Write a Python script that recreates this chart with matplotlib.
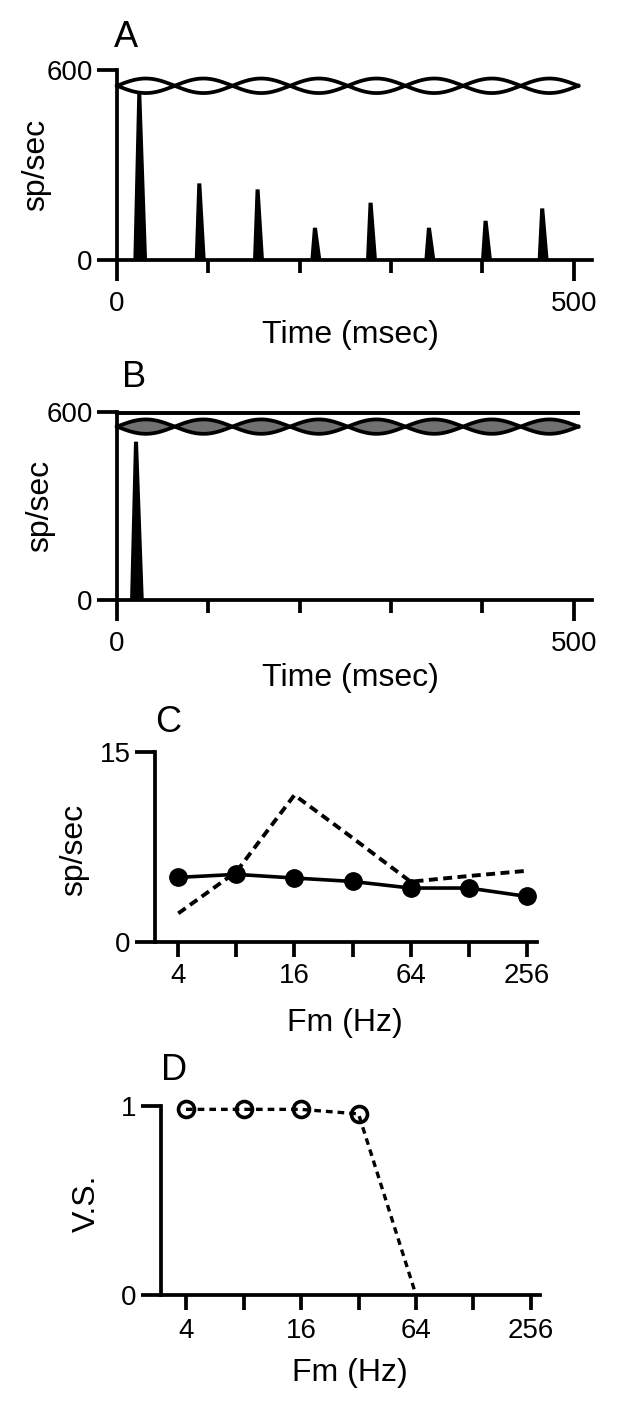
import numpy as np
import matplotlib
matplotlib.use('Agg')
import matplotlib.pyplot as plt
from matplotlib.ticker import FixedLocator, NullFormatter

plt.rcParams['font.family'] = ['Liberation Sans', 'DejaVu Sans']

# panel A: PSTH peaks (time in ms, rate in sp/sec)
peak_t_a = [24.4, 90.1, 153.9, 216.7, 277.6, 341.5, 403.5, 465.5]
peak_h_a = [526, 242, 223, 102, 181, 102, 124, 163]

# panel B: single onset peak
peak_t_b = [20.8]
peak_h_b = [505]

# stimulus envelope drawn above the PSTH (16 Hz AM, 8 cycles)
stim_dur = 505
stim_cycles = 8
env_mid_a = 550
env_mid_b = 553
env_depth = 23
flat_level_b = 595

# panel C: rate vs modulation frequency
fm_c = [4, 8, 16, 32, 64, 128, 256]
rate_solid = [5.08, 5.32, 5.03, 4.76, 4.24, 4.24, 3.58]
rate_dashed = [2.24, 5.53, 11.58, 8.2, 4.74, 5.19, 5.6]

# panel D: vector strength
fm_d = [4, 8, 16, 32, 64]
vs_d = [0.982, 0.982, 0.982, 0.958, 0.0]

LW = 2.7
FS_TICK = 20
FS_LABEL = 23
FS_PANEL = 26

fig = plt.figure(figsize=(6.21, 14.13), dpi=100)


def style(ax):
    for s in ['top', 'right']:
        ax.spines[s].set_visible(False)
    for s in ['left', 'bottom']:
        ax.spines[s].set_linewidth(LW)
    ax.tick_params(axis='both', which='both', direction='out', width=LW,
                   labelsize=FS_TICK, color='k')
    ax.tick_params(axis='y', length=14.5, pad=3)


def psth(ax, pt, ph, mid, fill, flat=None):
    t = np.linspace(0, stim_dur, 3000)
    env = env_depth * np.abs(np.sin(np.pi * stim_cycles * t / stim_dur))
    if fill:
        ax.fill_between(t, mid - env, mid + env, color='#707070', lw=0)
    ax.plot(t, mid + env, color='k', lw=2.7, clip_on=False)
    ax.plot(t, mid - env, color='k', lw=2.7, clip_on=False)
    if flat is not None:
        ax.plot([0, stim_dur], [flat, flat], color='k', lw=2.8, clip_on=False)
    for i, (tp, h) in enumerate(zip(pt, ph)):
        wl, wr = (6.5, 8.5) if i == 0 else (5.0, 7.0)
        ax.fill([tp - wl, tp - 2.2, tp + 2.2, tp + wr], [0, h, h, 0],
                color='k', lw=0)
    ax.set_xlim(0, 520)
    ax.set_ylim(0, 600)
    ax.set_yticks([0, 600])
    ax.set_xticks([0, 500])
    ax.xaxis.set_minor_locator(FixedLocator([100, 200, 300, 400]))
    ax.xaxis.set_minor_formatter(NullFormatter())
    style(ax)
    ax.tick_params(axis='x', which='major', length=15, pad=7.5)
    ax.tick_params(axis='x', which='minor', length=9.5)
    ax.set_xlabel('Time (msec)', fontsize=FS_LABEL)
    ax.set_ylabel('sp/sec', fontsize=FS_LABEL)


def fm_axis(ax, lo, hi, pad):
    ax.set_xscale('log', base=2)
    ax.set_xlim(2 ** lo, 2 ** hi)
    ax.set_xticks([4, 16, 64, 256])
    ax.set_xticklabels(['4', '16', '64', '256'])
    ax.xaxis.set_minor_locator(FixedLocator([8, 32, 128]))
    ax.xaxis.set_minor_formatter(NullFormatter())
    style(ax)
    ax.tick_params(axis='x', which='both', length=10.5, pad=pad)
    ax.set_xlabel('Fm (Hz)', fontsize=FS_LABEL)


# A
axA = fig.add_axes([0.1884, 0.8160, 0.7649, 0.1345])
psth(axA, peak_t_a, peak_h_a, env_mid_a, fill=False)
axA.yaxis.set_label_coords(-0.138, 0.5)
axA.xaxis.set_label_coords(0.492, -0.316)

# B
axB = fig.add_axes([0.1884, 0.5754, 0.7649, 0.1331])
psth(axB, peak_t_b, peak_h_b, env_mid_b, fill=True, flat=flat_level_b)
axB.yaxis.set_label_coords(-0.130, 0.5)
axB.xaxis.set_label_coords(0.492, -0.335)

# C
axC = fig.add_axes([0.2496, 0.3335, 0.6147, 0.1345])
axC.plot(fm_c, rate_solid, color='k', lw=2.6, marker='o', ms=12.5,
         clip_on=False, zorder=3)
axC.plot(fm_c, rate_dashed, color='k', lw=2.8, ls=(0, (2.3, 1.4)),
         clip_on=False, zorder=4)
axC.set_ylim(0, 15)
axC.set_yticks([0, 15])
fm_axis(axC, 1.599, 8.172, 5)
axC.set_ylabel('sp/sec', fontsize=FS_LABEL)
axC.yaxis.set_label_coords(-0.173, 0.483)
axC.xaxis.set_label_coords(0.498, -0.349)

# D
axD = fig.add_axes([0.2588, 0.0835, 0.6108, 0.1338])
axD.plot(fm_d, vs_d, color='k', lw=2.4, ls=(0, (2.0, 1.5)), marker='o',
         ms=11.5, mfc='none', mec='k', mew=2.6, markevery=[0, 1, 2, 3],
         clip_on=False)
axD.set_ylim(0, 1)
axD.set_yticks([0, 1])
fm_axis(axD, 1.56, 8.157, 6)
axD.set_ylabel('V.S.', fontsize=FS_LABEL)
axD.yaxis.set_label_coords(-0.155, 0.485)
axD.xaxis.set_label_coords(0.499, -0.333)

# panel letters
for x, y, s in [(0.183, 0.967, 'A'), (0.1965, 0.7263, 'B'),
                (0.2504, 0.4822, 'C'), (0.26, 0.2357, 'D')]:
    fig.text(x, y, s, fontsize=FS_PANEL, va='baseline', ha='left')

fig.savefig('out.png', dpi=100)
